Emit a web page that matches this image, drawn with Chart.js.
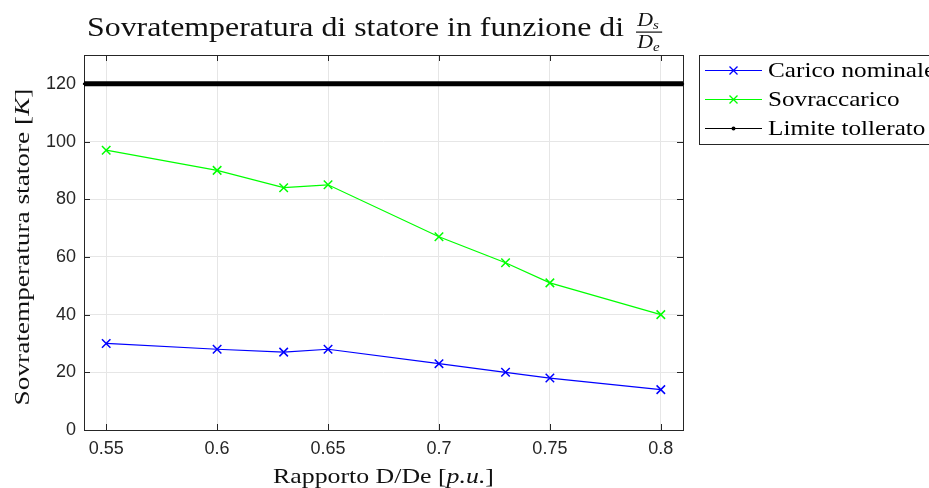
<!DOCTYPE html>
<html>
<head>
<meta charset="utf-8">
<script src="https://cdn.jsdelivr.net/npm/chart.js@4/dist/chart.umd.min.js"></script>
<style>
  body { margin: 0; background: #fff; overflow: hidden; }
  #box { position: relative; width: 929px; height: 488px; }
</style>
</head>
<body>
<div id="box"><canvas id="graph" width="929" height="488"></canvas></div>
<script>
// data
var rapporto = [0.55, 0.6, 0.63, 0.65, 0.7, 0.73, 0.75, 0.8];
var caricoNominale = [30, 28, 27, 28, 23, 20, 18, 14];
var sovraccarico = [97, 90, 84, 85, 67, 58, 51, 40];
var limiteX = [0.54, 0.81];
var limiteY = [120, 120];
var xTicks = [0.55, 0.6, 0.65, 0.7, 0.75, 0.8];
var yTicks = [0, 20, 40, 60, 80, 100, 120];

var serif = '"Liberation Serif", "DejaVu Serif", serif';
var sans = '"Liberation Sans", Arial, sans-serif';
// latex fonts are wider than Times, so serif text gets stretched a bit
var stretch = 1.2;

var toPoints = function(xs, ys) {
  var pts = [];
  for (var i = 0; i < xs.length; i++) {
    pts.push({x: xs[i], y: ys[i]});
  }
  return pts;
};

// draws text made of normal / italic pieces at 0,0 (centred or left aligned)
var drawPieces = function(ctx, pieces, size, centred, sx) {
  sx = sx || stretch;
  var total = 0;
  for (var i = 0; i < pieces.length; i++) {
    ctx.font = (pieces[i][1] ? 'italic ' : '') + size + 'px ' + serif;
    total += ctx.measureText(pieces[i][0]).width;
  }
  ctx.save();
  ctx.scale(sx, 1);
  var x = centred ? -total / 2 : 0;
  for (var i = 0; i < pieces.length; i++) {
    ctx.font = (pieces[i][1] ? 'italic ' : '') + size + 'px ' + serif;
    ctx.fillText(pieces[i][0], x, 0);
    x += ctx.measureText(pieces[i][0]).width;
  }
  ctx.restore();
  return total * sx;
};

var crossAt = function(ctx, x, y, r, color) {
  ctx.strokeStyle = color;
  ctx.lineWidth = 1.3;
  ctx.beginPath();
  ctx.moveTo(x - r, y - r); ctx.lineTo(x + r, y + r);
  ctx.moveTo(x - r, y + r); ctx.lineTo(x + r, y - r);
  ctx.stroke();
};

var decorations = {
  id: 'decorations',
  beforeDatasetsDraw: function(chart) {
    var ctx = chart.ctx;
    var a = chart.chartArea;
    var xs = chart.scales.x, ys = chart.scales.y;
    ctx.save();
    // inner ticks on all four sides
    ctx.strokeStyle = '#262626';
    ctx.lineWidth = 1;
    ctx.beginPath();
    xTicks.forEach(function(v) {
      var px = Math.round(xs.getPixelForValue(v)) + 0.5;
      ctx.moveTo(px, a.bottom); ctx.lineTo(px, a.bottom - 6);
      ctx.moveTo(px, a.top); ctx.lineTo(px, a.top + 6);
    });
    yTicks.forEach(function(v) {
      var py = Math.round(ys.getPixelForValue(v)) + 0.5;
      ctx.moveTo(a.left, py); ctx.lineTo(a.left + 6, py);
      ctx.moveTo(a.right, py); ctx.lineTo(a.right - 6, py);
    });
    ctx.stroke();
    // axes box
    ctx.strokeRect(Math.round(a.left) + 0.5, Math.round(a.top) + 0.5,
      Math.round(a.right - a.left), Math.round(a.bottom - a.top));
    ctx.restore();
  },
  afterDraw: function(chart) {
    var ctx = chart.ctx;
    var a = chart.chartArea;
    ctx.save();
    ctx.fillStyle = '#111';
    ctx.textBaseline = 'alphabetic';

    // title with the Ds/De fraction
    ctx.save();
    ctx.translate(87, 36);
    var tw = drawPieces(ctx, [['Sovratemperatura di statore in funzione di', false]], 27, false, 1.18);
    ctx.restore();
    var fx = 87 + tw + 12;
    ctx.save();
    ctx.translate(fx, 0);
    ctx.scale(1.15, 1);
    ctx.font = 'italic 19px ' + serif;
    var dw = ctx.measureText('D').width;
    ctx.fillText('D', 1, 26);
    ctx.fillText('D', 1, 48);
    ctx.font = 'italic 13px ' + serif;
    ctx.fillText('s', 1 + dw, 29);
    ctx.fillText('e', 1 + dw, 51);
    ctx.fillRect(0, 31.5, dw + 9, 1.2);
    ctx.restore();

    // axis titles
    ctx.save();
    ctx.translate((a.left + a.right) / 2, 483);
    drawPieces(ctx, [['Rapporto D/De [', false], ['p.u.', true], [']', false]], 21, true, 1.23);
    ctx.restore();
    ctx.save();
    ctx.translate(29, 247);
    ctx.rotate(-Math.PI / 2);
    drawPieces(ctx, [['Sovratemperatura statore [', false], ['K', true], [']', false]], 21, true, 1.3);
    ctx.restore();

    // legend
    ctx.fillStyle = '#fff';
    ctx.fillRect(699, 55, 240, 90);
    ctx.strokeStyle = '#262626';
    ctx.lineWidth = 1;
    ctx.strokeRect(699.5, 55.5, 240, 89);
    var rows = [
      ['Carico nominale', '#0000ff', 'x'],
      ['Sovraccarico', '#00ff00', 'x'],
      ['Limite tollerato', '#000000', 'dot']
    ];
    rows.forEach(function(r, i) {
      var y = 70 + i * 29;
      ctx.strokeStyle = r[1];
      ctx.lineWidth = 1;
      ctx.beginPath();
      ctx.moveTo(705, y + 0.5); ctx.lineTo(762, y + 0.5);
      ctx.stroke();
      if (r[2] == 'x') {
        crossAt(ctx, 733.5, y + 0.5, 4, r[1]);
      } else {
        ctx.fillStyle = '#000';
        ctx.beginPath();
        ctx.arc(733.5, y + 0.5, 2, 0, Math.PI * 2);
        ctx.fill();
      }
      ctx.fillStyle = '#000';
      ctx.save();
      ctx.translate(768, y + 7);
      drawPieces(ctx, [[r[0], false]], 21, false);
      ctx.restore();
    });
    ctx.restore();
  }
};

var fmt = function(v) { return String(+v.toFixed(2)); };

new Chart(document.getElementById('graph'), {
  type: 'line',
  data: {
    datasets: [{
      label: 'Limite tollerato',
      data: toPoints(limiteX, limiteY),
      borderColor: '#000',
      backgroundColor: '#000',
      borderWidth: 5,
      pointRadius: 1.5,
      pointBorderWidth: 0,
      pointStyle: 'rect',
      clip: false,
      order: 3
    }, {
      label: 'Carico nominale',
      data: toPoints(rapporto, caricoNominale),
      borderColor: '#0000ff',
      backgroundColor: '#0000ff',
      borderWidth: 1.2,
      pointStyle: 'crossRot',
      pointRadius: 6,
      pointBorderWidth: 1.5,
      order: 2
    }, {
      label: 'Sovraccarico',
      data: toPoints(rapporto, sovraccarico),
      borderColor: '#00ff00',
      backgroundColor: '#00ff00',
      borderWidth: 1.2,
      pointStyle: 'crossRot',
      pointRadius: 6,
      pointBorderWidth: 1.5,
      order: 1
    }]
  },
  options: {
    responsive: false,
    animation: false,
    layout: { padding: { top: 55, right: 246, left: 0, bottom: 0 } },
    plugins: { legend: { display: false }, title: { display: false }, tooltip: { enabled: false } },
    elements: { line: { tension: 0 } },
    scales: {
      x: {
        type: 'linear',
        min: 0.54,
        max: 0.81,
        afterBuildTicks: function(s) { s.ticks = xTicks.map(function(v) { return {value: v}; }); },
        afterFit: function(s) { s.height = 58; },
        ticks: { callback: fmt, color: '#262626', font: { family: sans, size: 18 }, padding: 8, maxRotation: 0 },
        grid: { color: '#e6e6e6', drawTicks: false },
        border: { display: false }
      },
      y: {
        min: 0,
        max: 130,
        afterBuildTicks: function(s) { s.ticks = yTicks.map(function(v) { return {value: v}; }); },
        afterFit: function(s) { s.width = 84; },
        ticks: { color: '#262626', font: { family: sans, size: 18 }, padding: 8 },
        grid: { color: '#e6e6e6', drawTicks: false },
        border: { display: false }
      }
    }
  },
  plugins: [decorations]
});
</script>
</body>
</html>
